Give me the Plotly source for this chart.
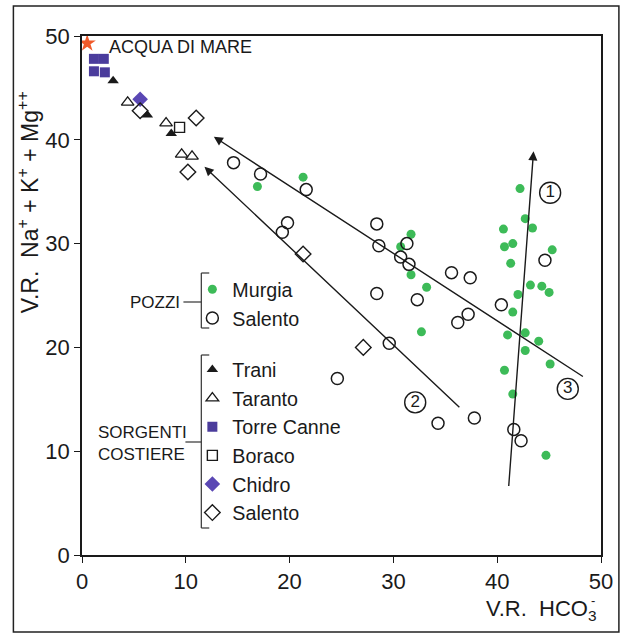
import plotly.graph_objects as go

# ---------------- data ----------------
sea_x = [0.5]
sea_y = [49.3]

murgia_x = [21.3, 16.9, 42.2, 42.7, 43.4, 40.6, 31.7, 30.7, 40.7, 41.5, 45.3, 41.3, 31.7, 33.2,
            42.0, 43.2, 44.3, 45.0, 41.5, 32.7, 41.0, 42.7, 44.0, 42.7, 45.1, 40.7, 41.5, 44.7]
murgia_y = [36.4, 35.5, 35.3, 32.4, 31.5, 31.4, 30.9, 29.7, 29.7, 30.0, 29.4, 28.1, 27.0, 25.8,
            25.1, 26.0, 25.9, 25.3, 23.4, 21.5, 21.2, 21.4, 20.6, 19.7, 18.4, 17.8, 15.5, 9.6]

salento_pozzi_x = [14.6, 17.2, 21.6, 19.8, 19.3, 28.4, 28.6, 31.3, 30.7, 31.5, 28.4, 29.6, 24.6,
                   32.3, 35.6, 37.4, 37.2, 36.2, 40.4, 44.6, 34.3, 37.8, 41.6, 42.3]
salento_pozzi_y = [37.8, 36.7, 35.2, 32.0, 31.1, 31.9, 29.8, 30.0, 28.7, 28.0, 25.2, 20.4, 17.0,
                   24.6, 27.2, 26.7, 23.2, 22.4, 24.1, 28.4, 12.7, 13.2, 12.1, 11.0]

trani_x = [3.0, 6.3, 8.6]
trani_y = [45.7, 42.4, 40.6]

taranto_x = [4.4, 8.1, 9.6, 10.6]
taranto_y = [43.6, 41.6, 38.6, 38.4]

torre_canne_x = [1.15, 2.1, 1.15, 2.2]
torre_canne_y = [47.8, 47.8, 46.6, 46.5]

boraco_x = [9.4]
boraco_y = [41.2]

chidro_x = [5.6]
chidro_y = [43.9]

salento_sorg_x = [5.6, 11.0, 10.2, 21.3, 27.1]
salento_sorg_y = [42.8, 42.1, 36.9, 29.0, 20.0]

# trend arrows: tail -> tip
arrow_tail_x = [41.1, 36.5, 48.4]
arrow_tail_y = [6.5, 14.1, 17.1]
arrow_tip_x = [43.5, 11.8, 12.7]
arrow_tip_y = [38.9, 37.4, 40.3]

trend_labels = ["1", "2", "3"]
trend_label_x = [45.1, 32.1, 46.8]
trend_label_y = [34.9, 14.7, 16.0]

x_ticks = [0, 10, 20, 30, 40, 50]
y_ticks = [0, 10, 20, 30, 40, 50]

# ---------------- layout helpers ----------------
W, H = 625, 644
L, R, T, B = 82, 21, 36, 89
PW, PH = W - L - R, H - T - B
FONT = "Liberation Sans, Arial, sans-serif"
INK = "#1a1a1a"


def P(px, py):
    """pixel position -> paper coordinates"""
    return (px - L) / PW, (H - B - py) / PH


fig = go.Figure()

fig.add_trace(go.Scatter(x=murgia_x, y=murgia_y, mode="markers", name="Murgia",
                         legendgroup="pozzi",
                         marker=dict(symbol="circle", size=9, color="#3dbb58",
                                     line=dict(width=0))))
fig.add_trace(go.Scatter(x=salento_pozzi_x, y=salento_pozzi_y, mode="markers", name="Salento",
                         legendgroup="pozzi",
                         marker=dict(symbol="circle-open", size=12, color=INK,
                                     line=dict(width=1.5))))
fig.add_trace(go.Scatter(x=trani_x, y=trani_y, mode="markers", name="Trani",
                         legendgroup="sorg",
                         marker=dict(symbol="triangle-up", size=10, color=INK)))
fig.add_trace(go.Scatter(x=taranto_x, y=taranto_y, mode="markers", name="Taranto",
                         legendgroup="sorg",
                         marker=dict(symbol="triangle-up-open", size=11, color=INK,
                                     line=dict(width=1.3))))
fig.add_trace(go.Scatter(x=torre_canne_x, y=torre_canne_y, mode="markers", name="Torre Canne",
                         legendgroup="sorg",
                         marker=dict(symbol="square", size=10, color="#4b3c9c")))
fig.add_trace(go.Scatter(x=boraco_x, y=boraco_y, mode="markers", name="Boraco",
                         legendgroup="sorg",
                         marker=dict(symbol="square-open", size=10, color=INK,
                                     line=dict(width=1.4))))
fig.add_trace(go.Scatter(x=chidro_x, y=chidro_y, mode="markers", name="Chidro",
                         legendgroup="sorg",
                         marker=dict(symbol="diamond", size=12, color="#5a47b4")))
fig.add_trace(go.Scatter(x=salento_sorg_x, y=salento_sorg_y, mode="markers", name="Salento",
                         legendgroup="sorg",
                         marker=dict(symbol="diamond-open", size=12, color=INK,
                                     line=dict(width=1.4))))
fig.add_trace(go.Scatter(x=sea_x, y=sea_y, mode="markers", showlegend=False,
                         marker=dict(symbol="star", size=13, color="#f05a2a")))

# circled trend numbers
fig.add_trace(go.Scatter(x=trend_label_x, y=trend_label_y, mode="markers+text",
                         text=trend_labels, textposition="middle center",
                         textfont=dict(family=FONT, size=17, color=INK),
                         showlegend=False,
                         marker=dict(symbol="circle-open", size=21, color=INK,
                                     line=dict(width=1.4))))

annotations = []
for tx, ty, hx, hy in zip(arrow_tail_x, arrow_tail_y, arrow_tip_x, arrow_tip_y):
    annotations.append(dict(x=hx, y=hy, ax=tx, ay=ty, xref="x", yref="y",
                            axref="x", ayref="y", text="", showarrow=True,
                            arrowhead=2, arrowsize=1.3, arrowwidth=1.4,
                            arrowcolor=INK))

annotations.append(dict(x=2.4, y=48.9, xref="x", yref="y", text="ACQUA DI MARE",
                        showarrow=False, xanchor="left", yanchor="middle",
                        font=dict(family=FONT, size=18, color=INK)))

# axis titles
px_, py_ = P(28, 202)
annotations.append(dict(x=px_, y=py_, xref="paper", yref="paper", textangle=-90,
                        text="V.R.\u00a0 Na<sup>+</sup> + K<sup>+</sup> + Mg<sup>++</sup>",
                        showarrow=False, xanchor="center", yanchor="middle",
                        font=dict(family=FONT, size=23, color=INK)))
px_, py_ = P(601, 610)
annotations.append(dict(x=px_, y=py_, xref="paper", yref="paper",
                        text="V.R.\u00a0\u00a0HCO<sub>3</sub>",
                        showarrow=False, xanchor="right", yanchor="middle",
                        font=dict(family=FONT, size=22, color=INK)))
px_, py_ = P(596, 600)
annotations.append(dict(x=px_, y=py_, xref="paper", yref="paper", text="-",
                        showarrow=False, xanchor="center", yanchor="middle",
                        font=dict(family=FONT, size=13, color=INK)))

# group labels of the custom legend
px_, py_ = P(183, 302)
annotations.append(dict(x=px_, y=py_, xref="paper", yref="paper", text="POZZI",
                        showarrow=False, xanchor="right", yanchor="middle",
                        font=dict(family=FONT, size=17, color=INK)))
px_, py_ = P(190, 443)
annotations.append(dict(x=px_, y=py_, xref="paper", yref="paper",
                        text="SORGENTI<br>COSTIERE", align="left",
                        showarrow=False, xanchor="right", yanchor="middle",
                        font=dict(family=FONT, size=17, color=INK)))

shapes = []


def seg(x0, y0, x1, y1, w=1.2, col="#333333"):
    a0, b0 = P(x0, y0)
    a1, b1 = P(x1, y1)
    shapes.append(dict(type="line", xref="paper", yref="paper", x0=a0, y0=b0,
                       x1=a1, y1=b1, line=dict(color=col, width=w)))


# POZZI bracket
seg(202, 273, 202, 328)
seg(202, 273, 210, 273)
seg(202, 328, 210, 328)
seg(184, 302, 202, 302)
# SORGENTI COSTIERE bracket
seg(202, 355, 202, 528)
seg(202, 355, 210, 355)
seg(202, 528, 210, 528)
seg(186, 442, 202, 442)

# outer frame
a0, b0 = P(13, 632)
a1, b1 = P(622, 6)
shapes.append(dict(type="rect", xref="paper", yref="paper", x0=a0, y0=b0, x1=a1, y1=b1,
                   line=dict(color="#222222", width=1.5)))

lx, ly = P(193, 270)
fig.update_layout(
    width=W, height=H,
    margin=dict(l=L, r=R, t=T, b=B),
    paper_bgcolor="white", plot_bgcolor="white",
    font=dict(family=FONT, color=INK),
    showlegend=True,
    legend=dict(x=lx, y=ly, xanchor="left", yanchor="top",
                bgcolor="rgba(0,0,0,0)", traceorder="grouped",
                tracegroupgap=23, font=dict(family=FONT, size=19.7, color=INK),
                itemsizing="trace"),
    annotations=annotations,
    shapes=shapes,
    xaxis=dict(range=[0, 50], tickvals=x_ticks, ticktext=[str(v) for v in x_ticks],
               showgrid=False, zeroline=False, showline=True, linecolor=INK, linewidth=1.5,
               mirror=True, ticks="outside", ticklen=6, tickwidth=1.3, tickcolor=INK,
               tickfont=dict(family=FONT, size=22, color=INK)),
    yaxis=dict(range=[0, 50], tickvals=y_ticks, ticktext=[str(v) for v in y_ticks],
               showgrid=False, zeroline=False, showline=True, linecolor=INK, linewidth=1.5,
               mirror=True, ticks="outside", ticklen=6, tickwidth=1.3, tickcolor=INK,
               tickfont=dict(family=FONT, size=22, color=INK)),
)

fig.write_html("out.html")
